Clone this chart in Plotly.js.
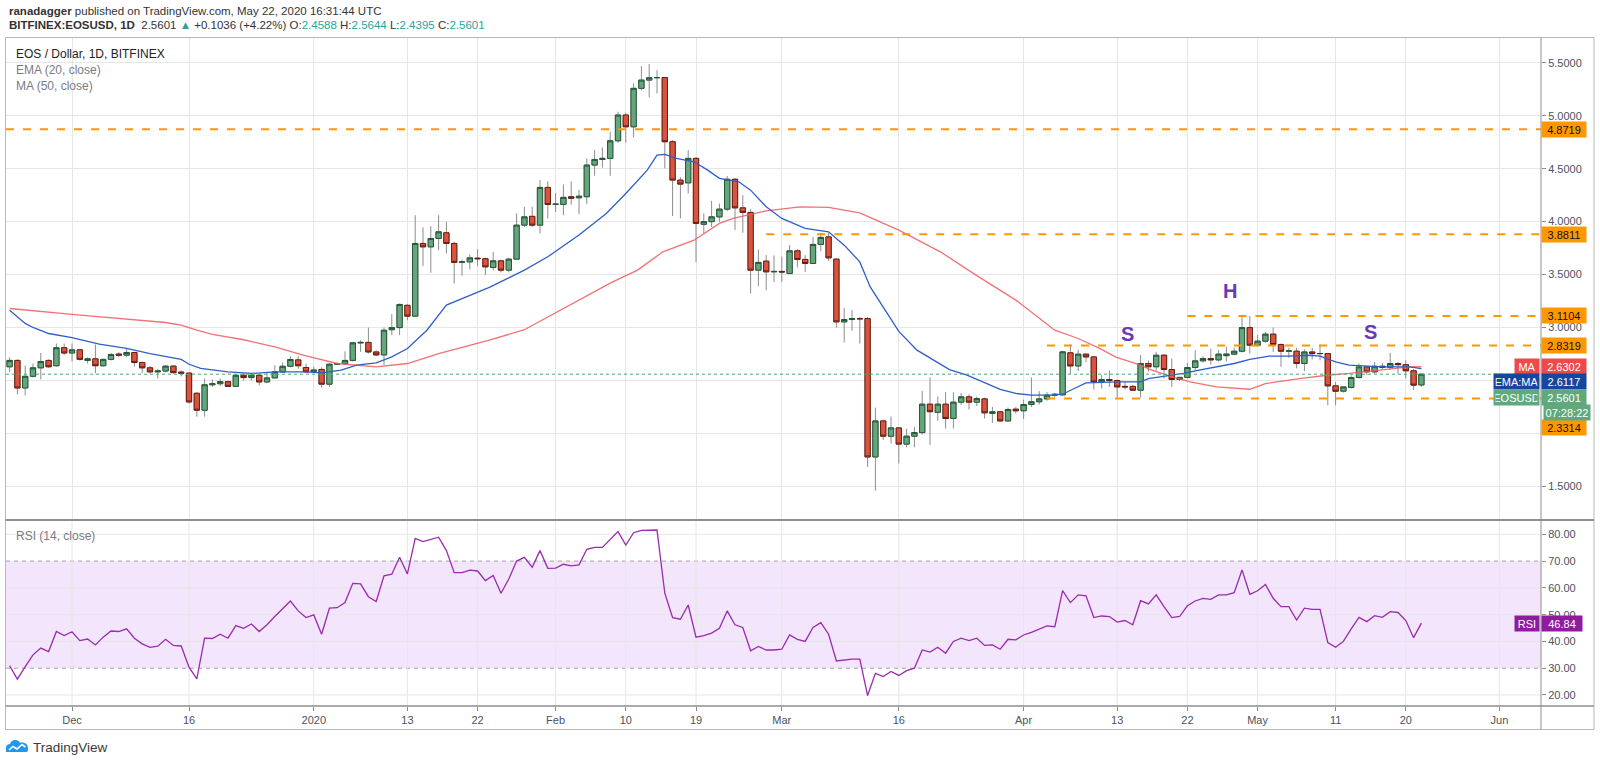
<!DOCTYPE html>
<html><head><meta charset="utf-8">
<script src="https://cdn.plot.ly/plotly-3.0.1.min.js"></script>
<style>html,body{margin:0;padding:0;background:#fff;}#chart{width:1600px;height:763px;}</style>
</head><body><div id="chart"></div>
<script>
// ---------- DATA ----------
const firstDay = '2019-11-23';   // first candle; one candle per day until 2020-05-22
const open = [
 2.63,2.69,2.43,2.54,2.62,2.69,2.64,2.81,
 2.76,2.79,2.69,2.705,2.64,2.70,2.75,2.74,2.765,2.67,2.62,2.582,2.59,2.636,2.58,2.57,2.38,2.22,2.46,2.47,2.49,2.445,2.55,2.528,2.55,2.487,2.525,2.582,2.635,2.695,2.623,
 2.582,2.605,2.466,2.654,2.66,2.69,2.855,2.86,2.77,2.742,2.98,3.0,3.21,3.108,3.794,3.762,3.841,3.895,3.794,3.615,3.62,3.655,3.65,3.567,3.63,3.542,3.646,3.967,4.05,3.967,4.323,
 4.162,4.162,4.235,4.225,4.235,4.534,4.587,4.597,4.763,5.006,4.895,5.258,5.336,5.358,5.36,4.754,4.392,4.366,4.597,3.975,4.0,4.045,4.118,4.40,4.13,4.087,3.542,3.627,3.526,
 3.53,3.51,3.724,3.643,3.605,3.785,3.856,3.646,3.054,3.076,3.085,3.085,1.779,2.119,1.975,2.053,1.90,1.975,2.009,2.277,2.20,2.277,2.142,2.296,2.346,2.296,2.327,2.19,2.205,2.119,2.23,
 2.215,2.274,2.30,2.327,2.362,2.365,2.762,2.638,2.749,2.723,2.487,2.51,2.50,2.445,2.445,2.409,2.661,2.63,2.739,2.604,2.51,2.53,2.623,2.686,2.708,2.695,2.735,2.749,2.777,3.0,
 2.834,2.872,2.938,2.84,2.777,2.777,2.661,2.77,2.755,2.755,2.45,2.40,2.435,2.529,2.629,2.582,2.635,2.625,2.661,2.65,2.592,2.4588];
const high = [
 2.72,2.70,2.64,2.66,2.76,2.70,2.85,2.85,
 2.85,2.80,2.72,2.84,2.705,2.76,2.77,2.80,2.77,2.68,2.636,2.61,2.645,2.645,2.595,2.58,2.39,2.52,2.51,2.52,2.50,2.56,2.57,2.57,2.555,2.575,2.645,2.67,2.73,2.73,2.66,
 2.63,2.625,2.667,2.67,2.777,2.866,2.88,3.0,2.785,3.0,3.127,3.228,3.22,4.061,3.945,3.957,4.061,3.998,3.81,3.64,3.69,3.74,3.66,3.715,3.64,3.66,4.077,4.14,4.14,4.392,4.38,
 4.27,4.351,4.38,4.30,4.597,4.675,4.70,4.848,5.037,5.03,5.305,5.468,5.487,5.43,5.365,4.77,4.42,4.675,4.61,4.077,4.196,4.17,4.43,4.41,4.25,4.12,3.737,3.684,3.68,
 3.67,3.778,3.74,3.684,3.856,3.894,3.894,3.65,3.186,3.165,3.10,3.10,2.245,2.13,2.16,2.06,2.045,2.06,2.403,2.53,2.35,2.393,2.39,2.383,2.37,2.35,2.34,2.25,2.21,2.245,2.25,
 2.32,2.529,2.40,2.39,2.385,2.78,2.84,2.79,2.755,2.73,2.55,2.595,2.51,2.49,2.46,2.74,2.69,2.77,2.75,2.708,2.535,2.667,2.787,2.73,2.80,2.787,2.82,2.81,3.10,3.11,
 2.93,2.96,3.0,2.85,2.81,2.81,2.795,2.81,2.84,2.76,2.487,2.445,2.55,2.661,2.635,2.675,2.665,2.762,2.675,2.69,2.61,2.5644];
const low = [
 2.58,2.37,2.36,2.53,2.51,2.62,2.63,2.74,
 2.68,2.69,2.66,2.57,2.63,2.69,2.72,2.72,2.63,2.57,2.565,2.52,2.575,2.565,2.54,2.283,2.16,2.16,2.44,2.45,2.44,2.44,2.50,2.50,2.455,2.475,2.52,2.575,2.625,2.61,2.575,
 2.575,2.434,2.44,2.65,2.65,2.68,2.77,2.755,2.733,2.645,2.928,2.928,3.07,3.10,3.58,3.517,3.731,3.70,3.416,3.49,3.55,3.58,3.495,3.54,3.52,3.52,3.64,3.95,3.95,3.888,4.03,
 4.09,4.06,4.16,4.07,4.165,4.432,4.51,4.432,4.745,4.745,4.795,5.24,5.173,5.21,4.502,4.052,4.03,4.266,3.62,3.89,3.95,3.998,4.10,3.92,3.894,3.322,3.39,3.353,3.43,
 3.43,3.505,3.568,3.526,3.60,3.721,3.63,3.0,2.859,2.97,2.85,1.685,1.462,1.94,1.906,1.718,1.87,1.87,1.99,1.893,2.12,2.047,2.047,2.27,2.227,2.26,2.142,2.10,2.11,2.11,2.19,
 2.137,2.25,2.274,2.31,2.345,2.355,2.56,2.59,2.675,2.415,2.425,2.44,2.339,2.415,2.40,2.339,2.585,2.595,2.519,2.44,2.495,2.52,2.598,2.67,2.65,2.68,2.68,2.74,2.765,2.755,
 2.82,2.855,2.77,2.629,2.715,2.614,2.59,2.70,2.69,2.267,2.267,2.387,2.425,2.52,2.55,2.565,2.60,2.60,2.565,2.52,2.41,2.4395];
const close = [
 2.69,2.43,2.54,2.62,2.68,2.63,2.81,2.76,
 2.79,2.70,2.705,2.64,2.70,2.746,2.74,2.765,2.67,2.62,2.582,2.59,2.636,2.575,2.57,2.298,2.22,2.46,2.47,2.49,2.445,2.55,2.528,2.55,2.487,2.525,2.582,2.635,2.699,2.64,2.582,
 2.60,2.466,2.654,2.66,2.69,2.856,2.86,2.77,2.742,2.975,3.0,3.218,3.108,3.794,3.762,3.841,3.904,3.794,3.615,3.62,3.658,3.65,3.573,3.63,3.542,3.646,3.967,4.045,3.967,4.323,4.162,
 4.165,4.229,4.22,4.24,4.534,4.587,4.597,4.763,5.006,4.895,5.258,5.336,5.358,5.36,4.754,4.392,4.354,4.597,3.983,4.0,4.045,4.118,4.40,4.13,4.087,3.542,3.615,3.526,3.53,
 3.525,3.724,3.643,3.605,3.785,3.851,3.658,3.054,3.076,3.085,3.083,1.779,2.119,1.975,2.053,1.90,1.975,2.009,2.277,2.206,2.277,2.142,2.296,2.346,2.296,2.33,2.195,2.205,2.119,2.227,2.215,
 2.274,2.30,2.327,2.362,2.37,2.771,2.638,2.749,2.723,2.487,2.51,2.50,2.44,2.44,2.409,2.661,2.63,2.739,2.604,2.51,2.53,2.623,2.686,2.708,2.695,2.749,2.75,2.777,3.0,2.834,
 2.872,2.938,2.84,2.777,2.78,2.661,2.77,2.755,2.755,2.45,2.399,2.44,2.529,2.629,2.582,2.635,2.625,2.661,2.65,2.592,2.4565,2.5601];
const rsi = [
 30.9,25.9,30.6,35.0,37.5,36.2,43.7,42.2,
 43.6,40.3,40.9,38.7,41.6,43.9,43.7,44.7,41.2,39.1,37.8,38.2,40.8,38.5,38.3,30.4,26.0,41.2,41.1,42.7,41.2,45.9,44.9,46.5,43.7,46.2,49.3,52.4,55.1,51.4,48.9,
 49.9,42.7,52.4,52.6,54.5,61.7,61.5,56.7,54.9,64.5,65.1,71.4,65.2,78.5,77.3,78.1,78.9,73.9,65.7,65.7,66.6,66.3,62.7,64.6,58.0,63.3,70.0,71.4,67.7,73.9,67.3,
 67.4,68.8,68.2,68.6,74.4,75.1,75.1,78.1,81.0,76.0,80.6,81.5,81.6,81.6,58.0,48.9,48.3,53.6,41.6,42.2,43.1,44.9,51.4,46.2,45.2,36.5,38.1,36.8,36.8,
 37.1,42.4,40.8,40.0,45.2,47.0,42.7,32.7,33.1,33.4,33.4,19.8,28.1,26.9,28.8,27.3,29.1,30.0,36.8,36.0,37.8,35.6,40.0,41.2,40.3,41.2,38.5,38.7,37.1,40.8,40.6,
 42.4,43.4,44.7,45.8,45.5,59.0,54.5,57.4,57.0,48.9,49.5,49.3,47.2,47.8,46.2,55.2,54.0,57.4,53.0,48.9,49.3,53.3,55.1,56.1,55.7,57.4,57.4,58.2,66.7,57.6,
 58.9,61.3,56.1,53.0,53.0,48.0,52.4,52.0,52.0,39.6,37.8,40.0,44.7,49.0,47.4,49.6,49.0,51.1,50.8,47.8,41.4,46.84];
const emaDates = ['2019-11-23','2019-11-24','2019-11-25','2019-11-26','2019-11-28','2019-12-01','2019-12-04 12:00','2019-12-08','2019-12-11','2019-12-15','2019-12-16','2019-12-17 12:00','2019-12-21','2019-12-24','2019-12-27','2019-12-31',
 '2020-01-02','2020-01-04 12:00','2020-01-06 12:00','2020-01-09','2020-01-11','2020-01-13','2020-01-15 12:00','2020-01-18','2020-01-21','2020-01-23 12:00','2020-01-28','2020-01-31','2020-02-04','2020-02-07 12:00','2020-02-10','2020-02-12 18:00','2020-02-14','2020-02-15','2020-02-16 12:00','2020-02-18 18:00','2020-02-20 12:00','2020-02-22','2020-02-24 12:00','2020-02-26','2020-02-28',
 '2020-03-01','2020-03-04','2020-03-07','2020-03-09','2020-03-11','2020-03-12 08:00','2020-03-14 12:00','2020-03-16','2020-03-18 08:00','2020-03-20 12:00','2020-03-22 12:00','2020-03-24 18:00','2020-03-26 18:00','2020-03-29','2020-03-31',
 '2020-04-02','2020-04-04 12:00','2020-04-06','2020-04-07 12:00','2020-04-09','2020-04-13','2020-04-16','2020-04-17','2020-04-19','2020-04-21 12:00','2020-04-23 12:00','2020-04-25 18:00','2020-04-28','2020-04-30',
 '2020-05-02 12:00','2020-05-05','2020-05-07 18:00','2020-05-09','2020-05-11','2020-05-12 18:00','2020-05-15','2020-05-17','2020-05-20 12:00','2020-05-22'];
const emaVals = [3.164,3.101,3.039,3.001,2.944,2.906,2.843,2.803,2.755,2.699,2.654,2.614,2.582,2.567,2.582,2.582,
 2.572,2.598,2.645,2.667,2.723,2.803,2.975,3.212,3.306,3.379,3.542,3.668,3.873,4.077,4.266,4.486,4.628,4.635,4.597,4.565,4.486,4.408,4.376,4.297,4.14,
 4.03,3.936,3.904,3.778,3.62,3.384,3.133,2.964,2.787,2.692,2.604,2.551,2.487,2.416,2.378,
 2.362,2.362,2.371,2.425,2.478,2.487,2.487,2.519,2.541,2.567,2.598,2.629,2.661,2.699,
 2.73,2.73,2.739,2.73,2.676,2.645,2.636,2.629,2.629,2.6117];
const maDates = ['2019-11-23','2019-12-01','2019-12-13','2019-12-15','2019-12-17','2019-12-19','2019-12-23','2019-12-27','2019-12-31','2020-01-04','2020-01-09','2020-01-13','2020-01-17','2020-01-23 12:00','2020-01-28','2020-02-03','2020-02-08',
 '2020-02-11 12:00','2020-02-14 18:00','2020-02-18 18:00','2020-02-22','2020-02-23 18:00','2020-02-28','2020-03-03 08:00','2020-03-07','2020-03-11','2020-03-16','2020-03-21 08:00','2020-03-26','2020-03-31',
 '2020-04-03','2020-04-05','2020-04-08','2020-04-10 18:00','2020-04-12 18:00','2020-04-16','2020-04-17','2020-04-19 18:00','2020-04-22 08:00','2020-04-25 18:00','2020-04-30',
 '2020-05-02','2020-05-06 08:00','2020-05-09 22:00','2020-05-12 18:00','2020-05-17','2020-05-20 12:00','2020-05-22'];
const maVals = [3.18,3.124,3.048,3.023,2.975,2.935,2.885,2.818,2.733,2.661,2.629,2.661,2.755,2.881,2.98,3.22,3.42,
 3.542,3.715,3.825,3.983,4.03,4.102,4.14,4.134,4.083,3.92,3.715,3.49,3.259,
 3.086,2.975,2.897,2.803,2.723,2.645,2.61,2.541,2.487,2.44,2.418,
 2.472,2.519,2.55,2.567,2.604,2.629,2.6302];
const levels = [4.8719, 3.8811, 3.1104, 2.8319, 2.3314];
const levelStart = [null, '2020-02-28', '2020-04-22', '2020-04-04', '2020-04-04'];
const lastPrice = 2.5601, lastMA = 2.6302, lastEMA = 2.6117, lastRSI = 46.84;
const tickDates = ['2019-12-01','2019-12-16','2020-01-01','2020-01-13','2020-01-22','2020-02-01','2020-02-10','2020-02-19','2020-03-01','2020-03-16','2020-04-01','2020-04-13','2020-04-22','2020-05-01','2020-05-11','2020-05-20','2020-06-01'];
const tickLabels = ['Dec','16','2020','13','22','Feb','10','19','Mar','16','Apr','13','22','May','11','20','Jun'];
const priceTicks = [1.5,2.0,2.5,3.0,3.5,4.0,4.5,5.0,5.5];
const priceTickText = ['1.5000','','','3.0000','3.5000','4.0000','4.5000','5.0000','5.5000'];
const rsiTicks = [20,30,40,50,60,70,80];
const rsiTickText = ['20.00','30.00','40.00','50.00','60.00','70.00','80.00'];

// ---------- helpers ----------
const dates = [];
{ const t0 = Date.parse(firstDay + 'T00:00:00Z');
  for (let i = 0; i < open.length; i++) dates.push(new Date(t0 + i*86400000).toISOString().slice(0,10)); }
const W = 1600, H = 763, L = 6, R = 1541, T = 37, B = 706;
const px = x => (x - L) / (R - L);
const py = y => (B - y) / (B - T);
const pathPx = s => s.replace(/(-?[\d.]+),(-?[\d.]+)/g, (m,a,b) => px(+a) + ',' + py(+b));
const FONT = 'Liberation Sans, Arial, sans-serif';
const XR = ['2019-11-22 12:55', '2020-06-06 08:00'];

const UPF = '#67a57f', UPL = '#235a38', DNF = '#d9543f', DNL = '#6b1d10', WICK = '#8c8c8c';
const bodyHi = open.map((o,i) => Math.max(o, close[i]));
const bodyLo = open.map((o,i) => Math.min(o, close[i]));

const traces = [
 {type:'candlestick', x:dates, open:open, high:high, low:low, close:close, xaxis:'x', yaxis:'y',
  increasing:{line:{color:WICK,width:1}, fillcolor:WICK}, decreasing:{line:{color:WICK,width:1}, fillcolor:WICK},
  whiskerwidth:0, hoverinfo:'skip', showlegend:false},
 {type:'candlestick', x:dates, open:open, high:bodyHi, low:bodyLo, close:close, xaxis:'x', yaxis:'y',
  increasing:{line:{color:UPL,width:1}, fillcolor:UPF}, decreasing:{line:{color:DNL,width:1}, fillcolor:DNF},
  whiskerwidth:0, hoverinfo:'skip', showlegend:false},
 {type:'scatter', mode:'lines', x:maDates, y:maVals, xaxis:'x', yaxis:'y', line:{color:'#f0585c', width:1.3}, opacity:0.85, hoverinfo:'skip'},
 {type:'scatter', mode:'lines', x:emaDates, y:emaVals, xaxis:'x', yaxis:'y', line:{color:'#2f5fc6', width:1.3}, hoverinfo:'skip'},
 {type:'scatter', mode:'lines', x:dates, y:rsi, xaxis:'x2', yaxis:'y2', line:{color:'#9a2aae', width:1.3}, hoverinfo:'skip'}
];

const shapes = [];
// RSI band and guide lines
shapes.push({type:'rect', xref:'paper', yref:'y2', x0:0, x1:1, y0:30, y1:70, fillcolor:'#f3e6fc', line:{width:0}, layer:'below'});
[20,40,50,60,80].forEach(v => shapes.push({type:'line', xref:'paper', yref:'y2', x0:0, x1:1, y0:v, y1:v, line:{color:'#e6e6e6', width:1}, layer:'below'}));
[30,70].forEach(v => shapes.push({type:'line', xref:'paper', yref:'y2', x0:0, x1:1, y0:v, y1:v, line:{color:'#a9a3ad', width:1, dash:'4px,4px'}, layer:'below'}));
tickDates.forEach(d => shapes.push({type:'line', xref:'x2', yref:'paper', x0:d, x1:d, y0:0, y1:py(521), line:{color:'#e6e6e6', width:1}, layer:'below'}));
// horizontal levels
levels.forEach((v,i) => shapes.push({type:'line', xref: levelStart[i] ? 'x' : 'paper', yref:'y',
  x0: levelStart[i] ? levelStart[i] : 0, x1: levelStart[i] ? XR[1] : 1, y0:v, y1:v,
  line:{color:'#ff9800', width:2, dash:'8px,9px'}}));
shapes.push({type:'line', xref:'paper', yref:'y', x0:0, x1:1, y0:lastPrice, y1:lastPrice, line:{color:'#4fa875', width:1, dash:'dot'}});
// frame, separators, axis lines
shapes.push({type:'rect', xref:'paper', yref:'paper', x0:px(5.5), x1:px(1594), y0:py(729.5), y1:py(37.5), line:{color:'#b9b9b9', width:1}});
shapes.push({type:'line', xref:'paper', yref:'paper', x0:px(5.5), x1:px(1594), y0:py(520), y1:py(520), line:{color:'#8e8e8e', width:2}});
shapes.push({type:'line', xref:'paper', yref:'paper', x0:px(5.5), x1:px(1594), y0:py(706), y1:py(706), line:{color:'#8e8e8e', width:1.5}});
shapes.push({type:'line', xref:'paper', yref:'paper', x0:px(1541), x1:px(1541), y0:py(729.5), y1:py(37.5), line:{color:'#8e8e8e', width:1}});
// TradingView logo
shapes.push({type:'path', xref:'paper', yref:'paper', fillcolor:'#2196f3', line:{width:0},
  path: pathPx('M6,752 L6,748 C6,745 8,744 10,744 C11,741 13,740 15,740 C18,740 20,742 20,743 C21,742 23,742 24,743 C26,743 28,745 28,748 L28,750 C28,751 27,752 26,752 Z')});
shapes.push({type:'path', xref:'paper', yref:'paper', line:{color:'#ffffff', width:1.6},
  path: pathPx('M9,750 L13,746.5 L17,749 L22,744.5 L25.5,747')});

const ann = [];
const txt = (x, y, text, size, color, extra) => Object.assign({xref:'paper', yref:'paper', x:px(x), y:py(y), text:text, showarrow:false,
  xanchor:'left', yanchor:'middle', font:{family:FONT, size:size, color:color}}, extra || {});
const up = s => '<span style="color:#26a69a">' + s + '</span>';
ann.push(txt(7, 11, '<b>ranadagger</b> published on TradingView.com, May 22, 2020 16:31:44 UTC', 11.5, '#333'));
ann.push(txt(7, 25, '<b>BITFINEX:EOSUSD, 1D</b>  ' + lastPrice.toFixed(4) + ' ' + up('▲') + ' +0.1036 (+4.22%) O:' + up(open[open.length-1].toFixed(4)) +
  ' H:' + up(high[high.length-1].toFixed(4)) + ' L:' + up(low[low.length-1].toFixed(4)) + ' C:' + up(close[close.length-1].toFixed(4)), 11.5, '#333'));
ann.push(txt(14, 54, 'EOS / Dollar, 1D, BITFINEX', 12, '#222'));
ann.push(txt(14, 70, 'EMA (20, close)', 12, '#787b86'));
ann.push(txt(14, 86, 'MA (50, close)', 12, '#787b86'));
ann.push(txt(14, 536, 'RSI (14, close)', 12, '#787b86'));
ann.push(txt(31, 747, 'TradingView', 13.5, '#3a3a3a'));
// pattern letters
[['S','2020-04-14 07:00',2.944],['H','2020-04-27 12:00',3.347],['S','2020-05-15 10:00',2.96]].forEach(a =>
  ann.push({xref:'x', yref:'y', x:a[1], y:a[2], text:'<b>'+a[0]+'</b>', showarrow:false, font:{family:FONT, size:20, color:'#673ab7'}}));
// right-hand value boxes
const box = (yref, y, text, bg, fg, xAnchor, xPix, width) => ({xref:'paper', yref:yref, x:px(xPix), y:y, text:text, showarrow:false,
  xanchor:xAnchor, yanchor:'middle', bgcolor:bg, borderpad:1.5, width:width, height:12,
  font:{family:FONT, size:11, color:fg}});
levels.forEach((v,i) => {
  const y = (i === 4) ? py(427.3) : v;
  ann.push(box(i === 4 ? 'paper' : 'y', y, v.toFixed(4), '#ff9800', '#111', 'left', 1541, 41));
});
ann.push(box('y', lastMA, lastMA.toFixed(4), '#ef4a4a', '#fff', 'left', 1541, 41));
ann.push(box('y', lastMA, 'MA', '#ef4a4a', '#fff', 'right', 1540, 21));
ann.push(box('paper', py(381.8), lastEMA.toFixed(4), '#16469e', '#fff', 'left', 1541, 41));
ann.push(box('paper', py(381.8), 'EMA:MA', '#16469e', '#fff', 'right', 1540, 42));
ann.push(box('paper', py(397.4), lastPrice.toFixed(4), '#5fa97c', '#fff', 'left', 1541, 41));
ann.push(box('paper', py(397.4), 'EOSUSD', '#5fa97c', '#fff', 'right', 1540, 42));
ann.push(box('paper', py(413), '07:28:22', '#5fa97c', '#fff', 'left', 1543, 43));
ann.push(box('y2', lastRSI, lastRSI.toFixed(2), '#8e1c9e', '#fff', 'left', 1541, 37));
ann.push(box('y2', lastRSI, 'RSI', '#8e1c9e', '#fff', 'right', 1540, 21));

const layout = {
  width:W, height:H, margin:{l:L, r:W-R, t:T, b:H-B, pad:0},
  paper_bgcolor:'#ffffff', plot_bgcolor:'#ffffff', showlegend:false,
  boxgap:0.32, boxgroupgap:0, font:{family:FONT, size:11, color:'#4c525e'},
  xaxis:{type:'date', range:XR, domain:[0,1], anchor:'y', rangeslider:{visible:false},
    tickvals:tickDates, showticklabels:false, ticks:'', showgrid:true, gridcolor:'#e6e6e6', zeroline:false, showline:false, fixedrange:true},
  xaxis2:{type:'date', range:XR, domain:[0,1], anchor:'y2', tickvals:tickDates, ticktext:tickLabels,
    ticks:'outside', ticklen:4, tickcolor:'#8e8e8e', showgrid:false, zeroline:false, showline:false,
    tickfont:{family:FONT, size:11, color:'#4c525e'}, fixedrange:true},
  yaxis:{domain:[0.279,1], range:[1.19,5.7426], side:'right', anchor:'x', tickvals:priceTicks, ticktext:priceTickText,
    ticks:'outside', ticklen:4, tickcolor:'#8e8e8e', showgrid:true, gridcolor:'#e6e6e6', zeroline:false, showline:false,
    tickfont:{family:FONT, size:11, color:'#4c525e'}, fixedrange:true},
  yaxis2:{domain:[0,0.277], range:[15.89,85.08], side:'right', anchor:'x2', tickvals:rsiTicks, ticktext:rsiTickText,
    ticks:'outside', ticklen:4, tickcolor:'#8e8e8e', showgrid:false, zeroline:false, showline:false,
    tickfont:{family:FONT, size:11, color:'#4c525e'}, fixedrange:true},
  shapes:shapes, annotations:ann
};
Plotly.newPlot('chart', traces, layout, {displayModeBar:false, staticPlot:true});
</script></body></html>
